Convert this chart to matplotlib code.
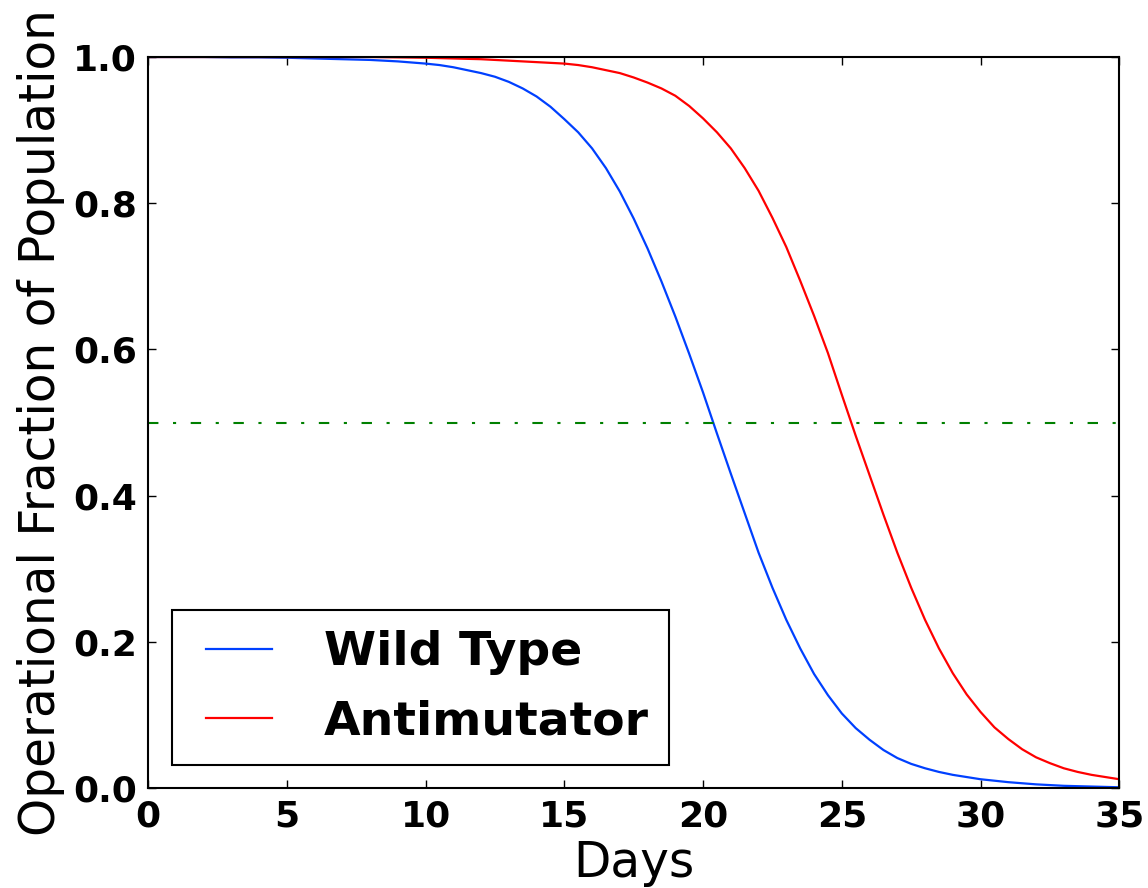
import numpy as np
import matplotlib
matplotlib.use("Agg")
import matplotlib.pyplot as plt
from matplotlib.lines import Line2D
from matplotlib.legend_handler import HandlerLine2D

# sample days: whole days up to 9, then half days
days = list(range(10)) + list(np.arange(10, 35.5, 0.5))

wild_type = [1.000, 1.000, 1.000, 0.9995, 0.9995, 0.999, 0.998, 0.997, 0.996, 0.994,
             0.991, 0.989, 0.986, 0.982, 0.978, 0.973, 0.966, 0.957, 0.946, 0.932,
             0.915, 0.897, 0.875, 0.848, 0.816, 0.779, 0.738, 0.693, 0.645, 0.594,
             0.541, 0.485, 0.430, 0.376, 0.322, 0.274, 0.230, 0.191, 0.156, 0.127,
             0.102, 0.082, 0.066, 0.052, 0.041, 0.033, 0.027, 0.022, 0.018, 0.015,
             0.012, 0.010, 0.008, 0.0065, 0.005, 0.004, 0.003, 0.0025, 0.002, 0.0015,
             0.001]
antimutator = [1.000, 1.000, 1.000, 1.000, 1.000, 1.000, 1.000, 1.000, 1.000, 0.9995,
               0.999, 0.9985, 0.998, 0.9975, 0.997, 0.996, 0.995, 0.994, 0.993, 0.992,
               0.991, 0.989, 0.986, 0.982, 0.978, 0.972, 0.965, 0.957, 0.947, 0.933,
               0.916, 0.897, 0.875, 0.848, 0.817, 0.780, 0.740, 0.694, 0.646, 0.595,
               0.538, 0.482, 0.428, 0.374, 0.322, 0.274, 0.230, 0.191, 0.157, 0.128,
               0.104, 0.083, 0.067, 0.053, 0.042, 0.034, 0.027, 0.022, 0.018, 0.015,
               0.012]
half_level = 0.5

xticks = [0, 5, 10, 15, 20, 25, 30, 35]
yticks = [0.0, 0.2, 0.4, 0.6, 0.8, 1.0]

plt.rcParams['font.family'] = 'DejaVu Sans'

fig = plt.figure(figsize=(11.48, 8.88), dpi=100)
ax = fig.add_axes([0.129, 0.1126, 0.846, 0.8232])

ax.plot(days, wild_type, color='#0040ff', lw=1.6, label='Wild Type')
ax.plot(days, antimutator, color='#ff0000', lw=1.6, label='Antimutator')
ax.axhline(half_level, color='#008000', lw=1.5, dashes=(5, 7, 1.5, 7))

ax.set_xlim(0, 35)
ax.set_ylim(0, 1.0)
ax.set_xticks(xticks)
ax.set_yticks(yticks)
ax.set_yticklabels(['%.1f' % v for v in yticks])
ax.tick_params(direction='in', length=6, width=1, top=True, right=True,
               labelsize=26, pad=8)
for lab in ax.get_xticklabels() + ax.get_yticklabels():
    lab.set_fontweight('bold')
for sp in ax.spines.values():
    sp.set_linewidth(1.5)

ax.set_xlabel('Days', fontsize=35, labelpad=4)
ax.set_ylabel('Operational Fraction of Population', fontsize=35, labelpad=6)

leg = ax.legend(loc='lower left', prop={'size': 34, 'weight': 'bold'},
                handlelength=1.68, handletextpad=1.1, borderpad=0.43,
                labelspacing=0.52, fancybox=False, framealpha=1,
                borderaxespad=0, bbox_to_anchor=(0.0247, 0.0315),
                handler_map={Line2D: HandlerLine2D(xpad=0.28)})
leg.get_frame().set_edgecolor('black')
leg.get_frame().set_linewidth(1.5)

fig.savefig('out.png', dpi=100, facecolor='white')
